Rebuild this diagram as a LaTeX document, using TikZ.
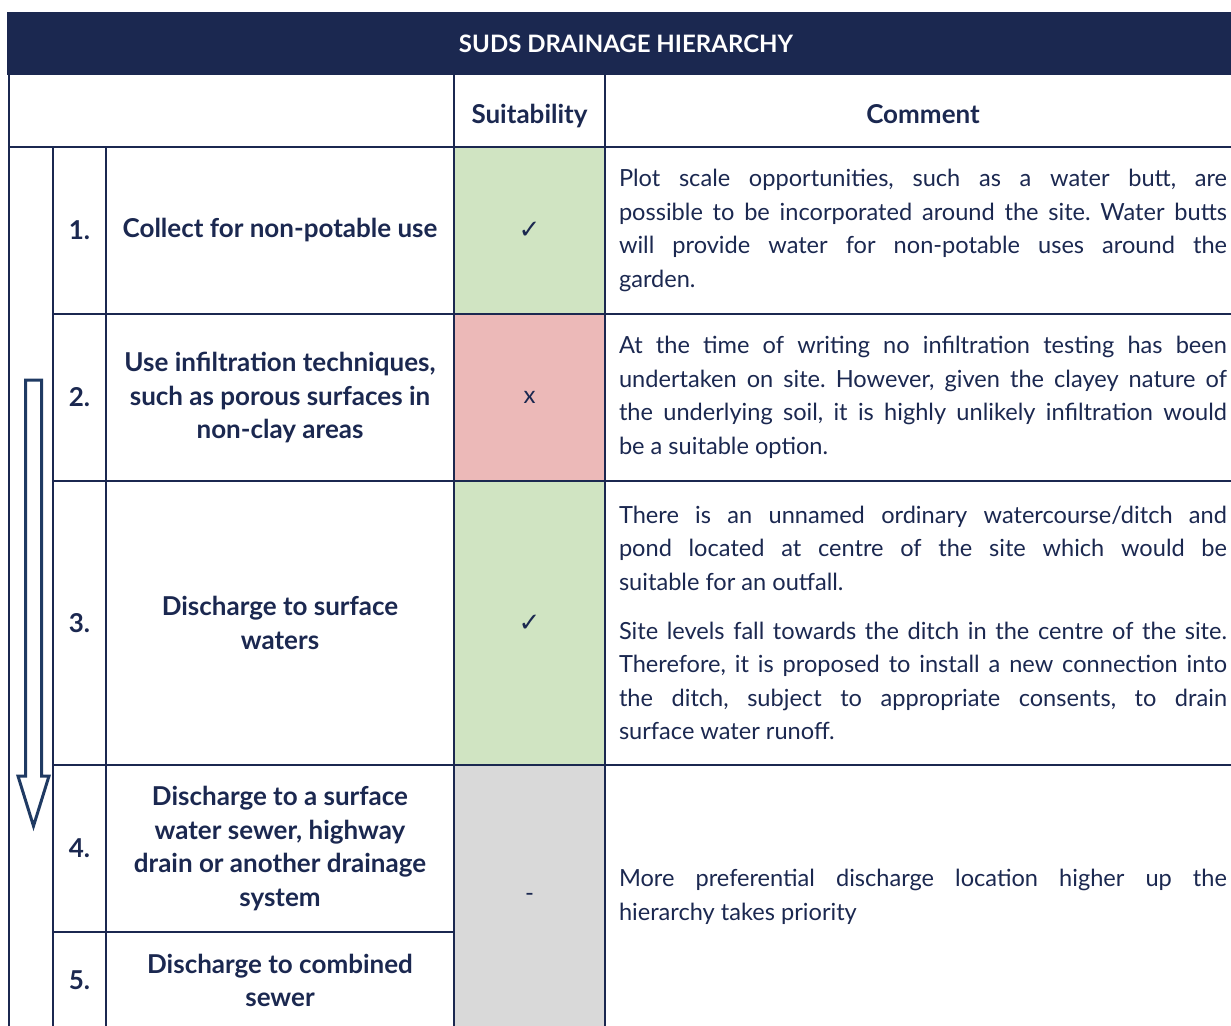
\documentclass[tikz,border=0pt]{standalone}
\usepackage{fontspec}
\setmainfont{Lato}
\newfontfamily\symfont{DejaVu Sans}
\definecolor{mynavy}{RGB}{27,40,80}
\definecolor{myarrowblue}{RGB}{31,58,99}
\definecolor{mygreen}{RGB}{208,228,194}
\definecolor{myred}{RGB}{236,185,184}
\definecolor{mygrey}{RGB}{217,217,217}
\newcommand{\unit}{0.5pt}
\newcommand{\rowshort}{167}
\newcommand{\rowlong}{284}
\newcommand{\tick}{{\symfont\fontsize{13}{14}\selectfont ✓}}
\newcommand{\nohyph}{\hyphenpenalty 10000 \frenchspacing}
\tikzset{
    common/.style={anchor=north west, draw=mynavy, line width=1pt, rectangle, inner sep=0pt, text=mynavy, align=center},
    cell/.style 2 args={common, minimum width=#1*\unit, minimum height=#2*\unit, font=\bfseries\fontsize{13}{16.8}\selectfont},
    mark/.style 2 args={common, minimum width=#1*\unit, minimum height=#2*\unit, font=\fontsize{12}{14}\selectfont},
    comment/.style={common, text width=304pt, inner xsep=7pt, align=justify, font=\fontsize{11.8}{16.8}\selectfont\nohyph},
    hollow/.style={draw=myarrowblue, line width=1.5pt, line join=miter}
}

\begin{document}
\begin{tikzpicture}[x=0.5pt, y=-0.5pt]
    \useasboundingbox (0,0) rectangle (1231,1025);

    % heading rows
    \node[cell={1236}{61}, fill=mynavy, text=white, font=\bfseries\fontsize{12}{14}\selectfont] (title) at (7,12) {SUDS DRAINAGE HIERARCHY};
    \node[cell={445}{73}] (blank) at (8,73) {};
    \node[cell={151}{73}, text height=13pt, text depth=0pt] (suit) at (453,73) {Suitability};
    \node[cell={636}{73}, text height=13pt, text depth=0pt] (comm) at (604,73) {Comment};

    % merged column for the arrow
    \node[cell={44}{882}] (arrowcol) at (8,146) {};

    % 1.
    \node[cell={53}{\rowshort}] (n1) at (52,146) {1.};
    \node[cell={348}{\rowshort}] (item1) at (105,146) {Collect for non-potable use};
    \node[mark={151}{\rowshort}, fill=mygreen] (s1) at (453,146) {\tick};
    \node[comment, minimum height=\rowshort*\unit] (c1) at (604,146) {Plot scale opportunities, such as a water butt, are\linebreak possible to be incorporated around the site. Water butts\linebreak will provide water for non-potable uses around the\linebreak garden.};

    % 2.
    \node[cell={53}{\rowshort}] (n2) at (52,313) {2.};
    \node[cell={348}{\rowshort}] (item2) at (105,313) {Use infiltration techniques,\\such as porous surfaces in\\non-clay areas};
    \node[mark={151}{\rowshort}, fill=myred] (s2) at (453,313) {x};
    \node[comment, minimum height=\rowshort*\unit] (c2) at (604,313) {At the time of writing no infiltration testing has been\linebreak undertaken on site. However, given the clayey nature of\linebreak the underlying soil, it is highly unlikely infiltration would\linebreak be a suitable option.};

    % 3.
    \node[cell={53}{\rowlong}] (n3) at (52,480) {3.};
    \node[cell={348}{\rowlong}] (item3) at (105,480) {Discharge to surface\\waters};
    \node[mark={151}{\rowlong}, fill=mygreen] (s3) at (453,480) {\tick};
    \node[comment, minimum height=\rowlong*\unit] (c3) at (604,480) {There is an unnamed ordinary watercourse/ditch and\linebreak pond located at centre of the site which would be\linebreak suitable for an outfall.\par\vspace{7.5pt}Site levels fall towards the ditch in the centre of the site.\linebreak Therefore, it is proposed to install a new connection into\linebreak the ditch, subject to appropriate consents, to drain\linebreak surface water runoff.};

    % 4. and 5.
    \node[cell={53}{\rowshort}] (n4) at (52,764) {4.};
    \node[cell={348}{\rowshort}] (item4) at (105,764) {Discharge to a surface\\water sewer, highway\\drain or another drainage\\system};
    \node[cell={53}{97}] (n5) at (52,931) {5.};
    \node[cell={348}{97}] (item5) at (105,931) {Discharge to combined\\sewer};
    \node[mark={151}{264}, fill=mygrey] (s45) at (453,764) {-};
    \node[comment, minimum height=264*\unit] (c45) at (604,764) {More preferential discharge location higher up the\linebreak hierarchy takes priority};

    % hierarchy arrow
    \draw[hollow] (25.5,380) -- (41.5,380) -- (41.5,776) -- (49,776) -- (33.5,826) -- (18,776) -- (25.5,776) -- cycle;
\end{tikzpicture}
\end{document}
